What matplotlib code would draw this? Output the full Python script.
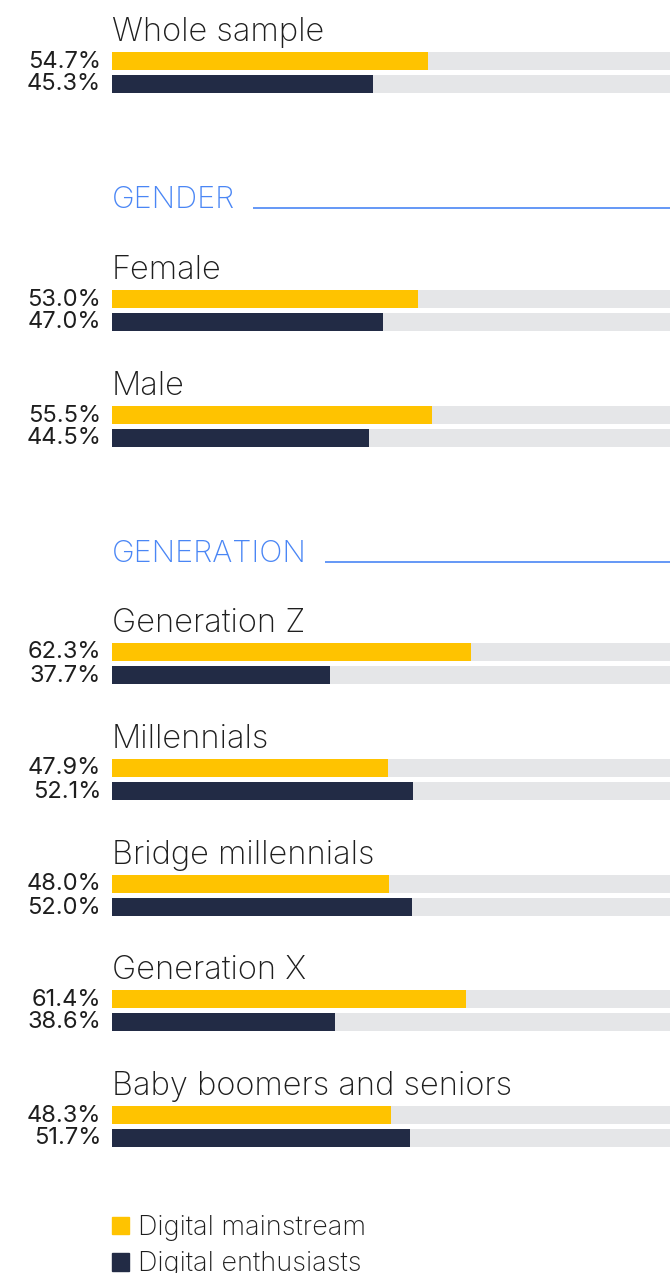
import matplotlib.pyplot as plt
from matplotlib.patches import Patch

# data
groups = ['Whole sample', 'Female', 'Male', 'Generation Z', 'Millennials',
          'Bridge millennials', 'Generation X', 'Baby boomers and seniors']
mainstream = [54.7, 53.0, 55.5, 62.3, 47.9, 48.0, 61.4, 48.3]
enthusiasts = [45.3, 47.0, 44.5, 37.7, 52.1, 52.0, 38.6, 51.7]
sections = ['GENDER', 'GENERATION']
legend_labels = ['Digital mainstream', 'Digital enthusiasts']

# layout (pixels from the top of the figure)
W, H = 670, 1273
title_y = [30, 268, 384, 621, 737, 853, 968, 1084]
section_y = [208, 562]
x0 = 112
px_per_pct = 5.77

YELLOW = '#FFC300'
NAVY = '#222B45'
GREY = '#E5E6E8'
BLUE = '#4A86F5'
TEXT = '#1E1E1E'
FONT = 'Inter'

fig = plt.figure(figsize=(W / 100, H / 100), dpi=100)
ax = fig.add_axes([x0 / W, 0, 1 - x0 / W, 1])
ax.set_xlim(0, (W - x0) / px_per_pct)
ax.set_ylim(H, 0)
ax.axis('off')

lab_x = -11 / px_per_pct
for name, m, e, ty in zip(groups, mainstream, enthusiasts, title_y):
    y1 = ty + 31
    y2 = y1 + 23
    ax.barh([y1, y2], [100, 100], height=18, color=GREY, zorder=1)
    ax.barh([y1, y2], [m, e], height=18, color=[YELLOW, NAVY], zorder=2)
    ax.text(0, ty + 11, name, fontsize=23.5, family=FONT, fontweight='light',
            color=TEXT, va='baseline', ha='left')
    ax.text(lab_x, y1 + 0.5, f'{m:.1f}%', fontsize=17, family=FONT,
            color=TEXT, va='center', ha='right')
    ax.text(lab_x, y2 + 0.5, f'{e:.1f}%', fontsize=17, family=FONT,
            color=TEXT, va='center', ha='right')

# section headers with a rule to the right
renderer = fig.canvas.get_renderer()
for s, sy in zip(sections, section_y):
    t = ax.text(0, sy, s, fontsize=22, family=FONT, fontweight='light',
                color=BLUE, va='baseline', ha='left')
    bb = t.get_window_extent(renderer)
    x_start = (bb.x1 + 18 - x0) / px_per_pct
    ax.plot([x_start, 200], [sy, sy], color=BLUE, lw=1.2, solid_capstyle='butt')

handles = [Patch(color=YELLOW), Patch(color=NAVY)]
leg = fig.legend(handles, legend_labels, loc='upper left',
                 bbox_to_anchor=(x0 / W, 1 - 1215 / H), frameon=False,
                 handlelength=0.64, handleheight=0.64, handletextpad=0.32,
                 labelspacing=0.38, borderpad=0, borderaxespad=0,
                 prop={'family': FONT, 'weight': 'light', 'size': 19.5})
for txt in leg.get_texts():
    txt.set_color(TEXT)

plt.savefig('out.png', dpi=100)
